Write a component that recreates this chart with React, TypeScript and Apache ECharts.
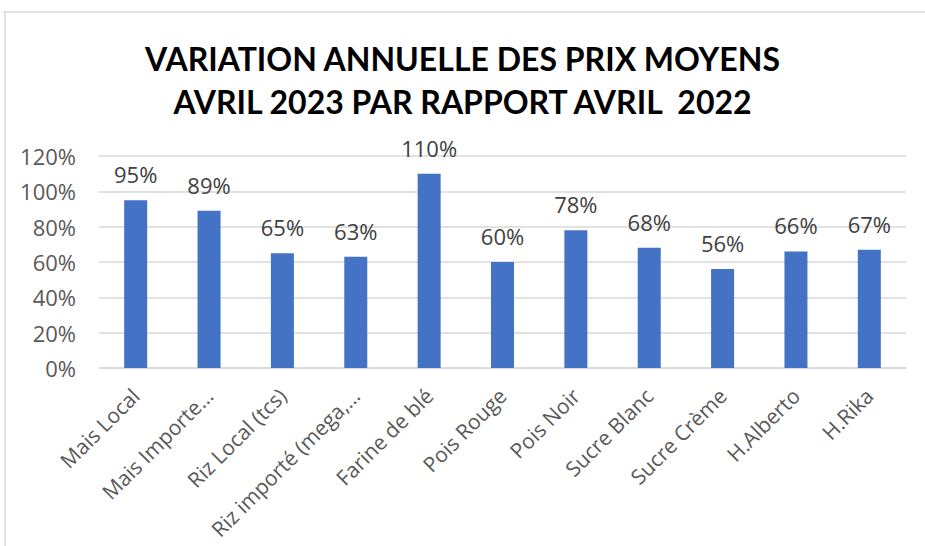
import React, { useEffect, useRef } from "react";
import * as echarts from "echarts";

const categories = [
  "Mais Local",
  "Mais Importe…",
  "Riz Local (tcs)",
  "Riz importé (mega,…",
  "Farine de blé",
  "Pois Rouge",
  "Pois Noir",
  "Sucre Blanc",
  "Sucre Crème",
  "H.Alberto",
  "H.Rika",
];
const values = [95, 89, 65, 63, 110, 60, 78, 68, 56, 66, 67];
const titleLines = [
  "VARIATION ANNUELLE DES PRIX MOYENS",
  "AVRIL 2023 PAR RAPPORT AVRIL  2022",
];

export default function App() {
  const ref = useRef<HTMLDivElement>(null);
  useEffect(() => {
    if (!ref.current) return;
    const chart = echarts.init(ref.current, undefined, { renderer: "svg" });
    chart.setOption({
      animation: false,
      backgroundColor: "#ffffff",
      title: {
        text: titleLines.join("\n"),
        left: "center",
        top: 32,
        textStyle: {
          fontFamily: "Lato",
          fontWeight: "bold",
          fontSize: 32,
          lineHeight: 43,
          color: "#000000",
        },
      },
      graphic: [
        {
          type: "line",
          shape: { x1: 3, y1: 12, x2: 925, y2: 12 },
          style: { stroke: "#d9d9d9", lineWidth: 1.5 },
        },
        {
          type: "line",
          shape: { x1: 5, y1: 12, x2: 5, y2: 546 },
          style: { stroke: "#d9d9d9", lineWidth: 1.5 },
        },
      ],
      grid: { left: 99, right: 19, top: 156, bottom: 178 },
      xAxis: {
        type: "category",
        data: categories,
        axisLine: { lineStyle: { color: "#d9d9d9", width: 1.5 } },
        axisTick: { show: false },
        axisLabel: {
          rotate: 45,
          interval: 0,
          color: "#595959",
          fontFamily: "Open Sans",
          fontSize: 21,
          margin: 24,
        },
      },
      yAxis: {
        type: "value",
        min: 0,
        max: 120,
        interval: 20,
        axisLine: { show: false },
        axisTick: { show: false },
        splitLine: { lineStyle: { color: "#d9d9d9", width: 1.5 } },
        axisLabel: {
          formatter: "{value}%",
          color: "#595959",
          fontFamily: "Open Sans",
          fontSize: 22,
          margin: 23,
        },
      },
      series: [
        {
          type: "bar",
          data: values,
          barWidth: 23,
          itemStyle: { color: "#4472C4" },
          label: {
            show: true,
            position: "top",
            distance: 15,
            formatter: "{c}%",
            color: "#404040",
            fontFamily: "Open Sans",
            fontSize: 22,
          },
        },
      ],
    });
    return () => chart.dispose();
  }, []);
  return (
    <div
      ref={ref}
      style={{ position: "absolute", left: 0, top: 0, width: 925, height: 546 }}
    />
  );
}
